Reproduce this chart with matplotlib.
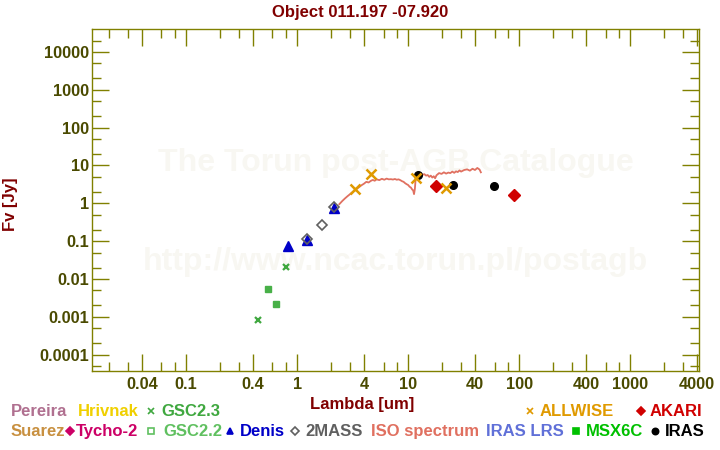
import matplotlib
matplotlib.use("Agg")
import matplotlib.pyplot as plt
from matplotlib.lines import Line2D
from matplotlib.ticker import FixedLocator, FixedFormatter, NullFormatter

plt.rcParams['font.family'] = ['Liberation Sans', 'DejaVu Sans']
plt.rcParams['font.weight'] = 'bold'

# ---------------------------------------------------------------- data
title = "Object 011.197 -07.920"

gsc23_wl = [0.448, 0.796]
gsc23_f = [0.0008, 0.0207]
gsc22_wl = [0.552, 0.651]
gsc22_f = [0.0053, 0.00213]
denis_wl = [0.835, 1.24, 2.16]
denis_f = [0.0757, 0.107, 0.74]
mass2_wl = [1.24, 1.69, 2.17]
mass2_f = [0.111, 0.267, 0.78]
allwise_wl = [3.33, 4.67, 11.7, 22.1]
allwise_f = [2.39, 5.85, 4.58, 2.49]
akari_wl = [18.0, 90.8]
akari_f = [2.87, 1.66]
iras_wl = [12.2, 25.1, 59.9]
iras_f = [5.6, 2.99, 2.87]

iso_wl = [2.40, 2.55, 2.70, 2.85, 3.00, 3.20, 3.40, 3.60, 3.80, 4.00,
          4.20, 4.40, 4.60, 4.80, 5.00, 5.20, 5.50, 5.80, 6.10, 6.40,
          6.70, 7.00, 7.30, 7.60, 7.90, 8.20, 8.50, 8.80, 9.10, 9.40,
          9.70, 10.0, 10.3, 10.6, 10.9, 11.1, 11.3, 11.5, 11.7, 12.0,
          12.5, 13.0, 13.5, 14.0, 14.5, 15.0, 15.5, 16.0, 16.5, 17.0,
          17.5, 18.0, 19.0, 20.0, 21.0, 22.0, 23.0, 24.0, 25.0, 26.0,
          27.0, 28.0, 29.0, 30.0, 32.0, 34.0, 36.0, 38.0, 40.0, 42.0,
          44.0, 45.2]
iso_f = [0.95, 1.15, 1.35, 1.55, 1.75, 2.05, 2.35, 2.65, 3.00, 3.30,
         3.70, 3.55, 3.90, 4.15, 3.95, 4.30, 4.10, 4.45, 4.20, 4.50,
         4.30, 4.35, 4.25, 4.40, 4.20, 4.30, 4.10, 3.85, 3.70, 3.40,
         3.20, 3.05, 2.75, 2.60, 2.30, 2.20, 1.75, 2.40, 4.60, 6.00,
         5.90, 6.30, 5.70, 5.90, 5.40, 5.60, 5.00, 5.40, 4.80, 5.20,
         4.60, 5.50, 6.30, 6.00, 6.60, 6.10, 6.50, 6.30, 6.90, 6.40,
         7.00, 6.70, 7.40, 6.90, 7.60, 7.90, 7.30, 8.20, 7.60, 8.60,
         7.80, 6.60]

x_major = [0.04, 0.1, 0.4, 1, 4, 10, 40, 100, 400, 1000, 4000]
x_major_labels = ["0.04", "0.1", "0.4", "1", "4", "10", "40", "100", "400", "1000", "4000"]
x_minor = [m * d for d in (0.01, 0.1, 1, 10, 100, 1000) for m in (2, 3, 6, 8)]
y_major = [1e4, 1e3, 1e2, 10, 1, 0.1, 0.01, 0.001, 0.0001]
y_major_labels = ["10000", "1000", "100", "10", "1", "0.1", "0.01", "0.001", "0.0001"]
y_minor = [m * 10.0 ** e for e in range(-5, 5) for m in (2, 5)]

# ---------------------------------------------------------------- figure
W, H = 720, 450
fig = plt.figure(figsize=(W / 100, H / 100), dpi=100)
ax = fig.add_axes([92 / W, 79 / H, 607 / W, 342 / H])

AXC = "#808000"
TXT = "#4a4a00"
RED = "#800000"

ax.text(0.5, 0.608, "The Torun post-AGB Catalogue", transform=ax.transAxes,
        ha="center", va="center", fontsize=23, color="#f8f7f2", zorder=0)
ax.text(0.5, 0.318, "http://www.ncac.torun.pl/postagb", transform=ax.transAxes,
        ha="center", va="center", fontsize=23, color="#f8f7f2", zorder=0)

ax.plot(iso_wl, iso_f, color="#e07060", lw=1.3, zorder=2)
ax.plot(gsc23_wl, gsc23_f, "x", color="#40a840", ms=5, mew=1.6, zorder=3)
ax.plot(gsc22_wl, gsc22_f, "s", color="#48b048", ms=5, zorder=3)
ax.plot(denis_wl, denis_f, "^", color="#0000c8", ms=6.5, zorder=3)
ax.plot(mass2_wl, mass2_f, "D", mfc="none", mec="#606060", ms=5, mew=1.2, zorder=4)
ax.plot(iras_wl, iras_f, "o", color="black", ms=5.5, zorder=4)
ax.plot(akari_wl, akari_f, "D", color="#d00000", ms=6, zorder=4)
ax.plot(allwise_wl, allwise_f, "x", color="#e09a00", ms=6.5, mew=1.8, zorder=5)

ax.set_xscale("log")
ax.set_yscale("log")
ax.set_xlim(0.0142, 4170)
ax.set_ylim(3.7e-5, 40500)

ax.xaxis.set_major_locator(FixedLocator(x_major))
ax.xaxis.set_major_formatter(FixedFormatter(x_major_labels))
ax.xaxis.set_minor_locator(FixedLocator(x_minor))
ax.xaxis.set_minor_formatter(NullFormatter())
ax.yaxis.set_major_locator(FixedLocator(y_major))
ax.yaxis.set_major_formatter(FixedFormatter(y_major_labels))
ax.yaxis.set_minor_locator(FixedLocator(y_minor))
ax.yaxis.set_minor_formatter(NullFormatter())

ax.tick_params(which="both", direction="in", top=True, right=True, color=AXC, width=1)
ax.tick_params(which="major", length=12.5, labelsize=11.7, labelcolor=TXT)
ax.tick_params(which="minor", length=6.5)
ax.tick_params(axis="y", which="major", pad=2)
ax.tick_params(axis="x", which="major", pad=4)
for s in ax.spines.values():
    s.set_color(AXC)
    s.set_linewidth(1)

# titles / axis labels
fig.text(0.5, 1 - 16.7 / H, title, ha="center", va="baseline", fontsize=12, color=RED)
fig.text(362 / W, 1 - 409 / H, "Lambda [um]", ha="center", va="baseline", fontsize=12, color=RED)
fig.text(10 / W, 1 - 204 / H, "Fv [Jy]", ha="center", va="center", rotation=90,
         fontsize=12, color=RED)

# legend rows below the plot (marker, colour, marker x, text x, row)
legend = [
    ("Pereira", "#b07090", None, None, 11, 0),
    ("Hrivnak", "#f0d000", None, None, 78, 0),
    ("GSC2.3", "#40a840", "x", 150.5, 161, 0),
    ("ALLWISE", "#e09a00", "x", 530.3, 540, 0),
    ("AKARI", "#d00000", "D", 641, 649.5, 0),
    ("Suarez", "#c89040", None, None, 11, 1),
    ("Tycho-2", "#cc0066", "D", 70.3, 76, 1),
    ("GSC2.2", "#60c060", "s_open", 151, 163, 1),
    ("Denis", "#0000c8", "^", 230, 240, 1),
    ("2MASS", "#606060", "D_open", 295.3, 305, 1),
    ("ISO spectrum", "#e07060", None, None, 370.7, 1),
    ("IRAS LRS", "#6070d8", None, None, 485.7, 1),
    ("MSX6C", "#00c000", "s", 575.5, 585.7, 1),
    ("IRAS", "black", "o", 655, 665, 1),
]
for label, col, mk, mx, tx, row in legend:
    base = 416 + 20 * row
    fig.text(tx / W, 1 - base / H, label, ha="left", va="baseline", fontsize=12, color=col)
    if mk is None:
        continue
    yc = 1 - (base - 5.5) / H
    kw = dict(color=col, ms=4.5, mew=1.2, linestyle="none")
    if mk.endswith("_open"):
        kw.update(marker=mk[0], mfc="none", mec=col)
    else:
        kw.update(marker=mk)
    fig.add_artist(Line2D([mx / W], [yc], transform=fig.transFigure, **kw))

fig.savefig("out.png", dpi=100)
